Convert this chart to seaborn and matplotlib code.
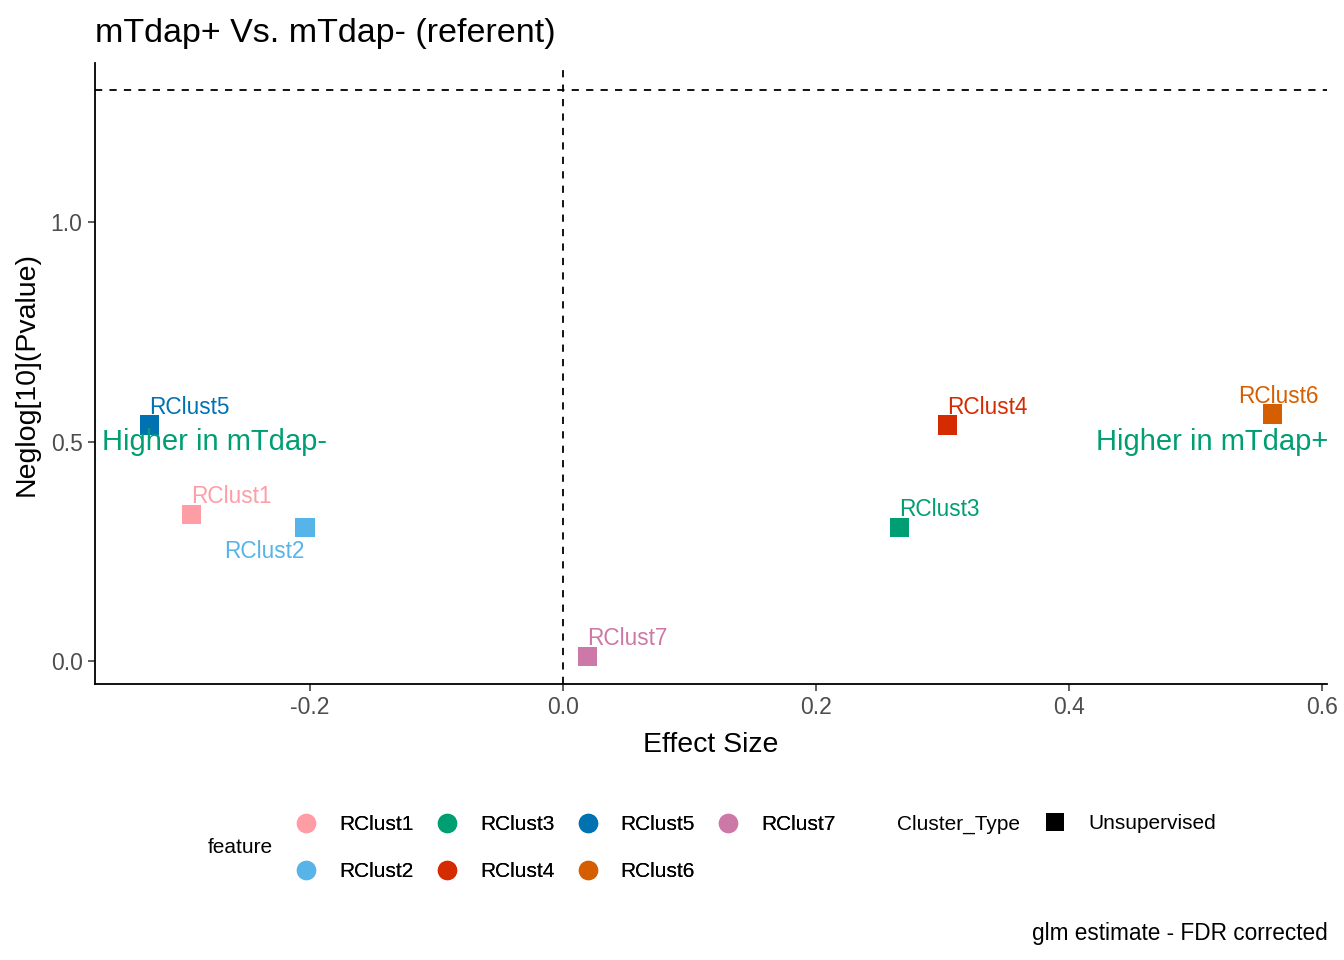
import pandas as pd
import matplotlib.pyplot as plt
import seaborn as sns
from matplotlib.lines import Line2D

# values
features = ["RClust1", "RClust2", "RClust3", "RClust4", "RClust5", "RClust6", "RClust7"]
effect_size = [-0.294, -0.204, 0.266, 0.304, -0.327, 0.561, 0.019]
neglog_p = [0.335, 0.305, 0.305, 0.538, 0.538, 0.563, 0.011]
colors = ["#FF9DA7", "#56B4E9", "#009E73", "#D52B00", "#0072B2", "#D55E00", "#CC79A7"]
x_ticks = [-0.2, 0.0, 0.2, 0.4, 0.6]
y_ticks = [0.0, 0.5, 1.0]

# label offsets in pixels (dx, dy, ha), ggrepel-like placement
label_pos = {
    "RClust1": (0, 18, "left"),
    "RClust2": (0, -24, "right"),
    "RClust3": (0, 18, "left"),
    "RClust4": (0, 18, "left"),
    "RClust5": (0, 18, "left"),
    "RClust6": (6, 18, "center"),
    "RClust7": (0, 18, "left"),
}

FONT = ["Liberation Sans", "DejaVu Sans"]


def main():
    df = pd.DataFrame({"feature": features, "effect": effect_size, "neglog": neglog_p})
    palette = dict(zip(features, colors))

    sns.set_style("white")
    plt.rcParams["font.family"] = FONT
    plt.rcParams["text.color"] = "black"
    plt.rcParams["axes.labelcolor"] = "black"

    fig = plt.figure(figsize=(13.44, 9.6), dpi=100)
    ax = fig.add_axes([0.0707, 0.2875, 0.9167, 0.6465])

    ax.axhline(1.301, color="black", linestyle=(0, (4, 4)), linewidth=1.3, zorder=1)
    ax.axvline(0, color="black", linestyle=(0, (4, 4)), linewidth=1.3, zorder=1)

    sns.scatterplot(data=df, x="effect", y="neglog", hue="feature", palette=palette,
                    marker="s", s=190, linewidth=0, legend=False, ax=ax, zorder=3)

    for f, x, y in zip(features, effect_size, neglog_p):
        dx, dy, ha = label_pos[f]
        ax.annotate(f, (x, y), xytext=(dx * 0.72, dy * 0.72), textcoords="offset points",
                    ha=ha, va="center", fontsize=16.3, color=palette[f], zorder=4)

    ax.text(0.006, 0.5, "Higher in mTdap-", transform=ax.get_yaxis_transform(),
            ha="left", va="center", fontsize=21, color="#009E73", zorder=5)
    ax.text(1.001, 0.5, "Higher in mTdap+", transform=ax.get_yaxis_transform(),
            ha="right", va="center", fontsize=21, color="#009E73", zorder=5)

    ax.set_xlim(-0.370, 0.604)
    ax.set_ylim(-0.052, 1.362)
    ax.set_xticks(x_ticks)
    ax.set_yticks(y_ticks)
    ax.set_xticklabels([f"{t:.1f}" for t in x_ticks])
    ax.set_yticklabels([f"{t:.1f}" for t in y_ticks])
    ax.tick_params(axis="both", direction="out", length=5, width=1.1, color="#333333",
                   labelsize=16.5, labelcolor="#4D4D4D", left=True, bottom=True, pad=4)
    for side in ["top", "right"]:
        ax.spines[side].set_visible(False)
    for side in ["left", "bottom"]:
        ax.spines[side].set_color("black")
        ax.spines[side].set_linewidth(1.3)

    ax.set_xlabel("Effect Size", fontsize=20.5, labelpad=9)
    ax.set_ylabel("Neglog[10](Pvalue)", fontsize=20.5, labelpad=8)
    fig.text(0.0707, 0.965, "mTdap+ Vs. mTdap- (referent)", fontsize=24.5,
             ha="left", va="center")

    # legends
    handles = [Line2D([], [], marker="o", linestyle="none", markersize=14,
                      markerfacecolor=palette[f], markeredgewidth=0, label=f) for f in features]
    leg1 = fig.legend(handles=handles, ncol=4, loc="center left",
                      bbox_to_anchor=(0.2187, 0.1167), frameon=False, fontsize=15,
                      handletextpad=0.98, columnspacing=1.0, labelspacing=1.35,
                      handlelength=1.2, borderpad=0, borderaxespad=0)
    fig.text(0.1548, 0.1167, "feature", fontsize=15, ha="left", va="center")

    sq = [Line2D([], [], marker="s", linestyle="none", markersize=13,
                 markerfacecolor="black", markeredgewidth=0, label="Unsupervised")]
    fig.legend(handles=sq, loc="center left", bbox_to_anchor=(0.7757, 0.1417),
               frameon=False, fontsize=15, handletextpad=1.0, handlelength=1.2,
               borderpad=0, borderaxespad=0)
    fig.text(0.6674, 0.1417, "Cluster_Type", fontsize=15, ha="left", va="center")
    fig.add_artist(leg1)

    fig.text(0.988, 0.028, "glm estimate - FDR corrected", fontsize=16.3,
             ha="right", va="center")

    fig.savefig("out.png", dpi=100)
    plt.close(fig)


if __name__ == "__main__":
    main()
